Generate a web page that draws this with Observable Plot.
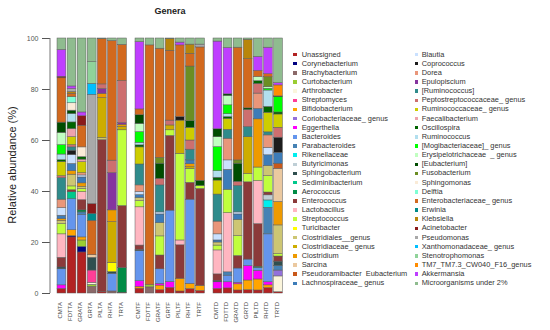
<!DOCTYPE html>
<html><head><meta charset="utf-8">
<script src="https://cdn.jsdelivr.net/npm/d3@7"></script>
<script src="https://cdn.jsdelivr.net/npm/@observablehq/plot@0.6"></script>
<style>
body{margin:0;background:#fff;font-family:"Liberation Sans",Arial,sans-serif}
#wrap{position:relative;width:550px;height:330px;overflow:hidden}
#wrap svg{position:absolute;left:0;top:0}
.title{position:absolute;left:170px;top:6px;transform:translateX(-50%);font-size:9px;font-weight:bold;color:#222}
.ylab{position:absolute;left:12px;top:165px;transform:translate(-50%,-50%) rotate(-90deg);font-size:11px;color:#222;white-space:nowrap}
.lg{position:absolute;font-size:7.4px;color:#333;white-space:pre;line-height:1}
.sw{position:absolute;width:3.5px;height:3.5px}
</style></head><body><div id="wrap"></div>
<script>
const genera = ["Unassigned","Corynebacterium","Brachybacterium","Curtobacterium","Arthrobacter","Streptomyces","Bifidobacterium","Coriobacteriaceae_ genus","Eggerthella","Bacteroides","Parabacteroides","Rikenellaceae","Butyricimonas","Sphingobacterium","Sediminibacterium","Aerococcus","Enterococcus","Lactobacillus","Streptococcus","Turicibacter","Clostridiales__genus","Clostridiaceae_ genus","Clostridium","Sarcina","Pseudoramibacter  Eubacterium","Lachnospiraceae_ genus","Blautia","Coprococcus","Dorea","Epulopiscium","[Ruminococcus]","Peptostreptococcaceae_ genus","Ruminococcaceae_ genus","Faecalibacterium","Oscillospira","Ruminococcus","[Mogibacteriaceae]_ genus","Erysipelotrichaceae  _ genus","[Eubacterium]","Fusobacterium","Sphingomonas","Delftia","Enterobacteriaceae_ genus","Erwinia","Klebsiella","Acinetobacter","Pseudomonas","Xanthomonadaceae_ genus","Stenotrophomonas","TM7_TM7.3_CW040_F16_genus","Akkermansia","Microorganisms under 2%"];
const colors = ["#B22222","#000080","#8B6969","#9ACD32","#FBF5DC","#FF3E96","#FFA500","#9370DB","#FF00FF","#6495ED","#4682B4","#00EEEE","#BFCFD6","#2F4F4F","#00C88C","#008B45","#8B3A3A","#FFB6C1","#C0FF3E","#FFFF00","#CDC673","#CDAD00","#EE9A00","#EBC9A0","#C8581A","#3D7CB8","#CAE1FF","#1C1C1C","#E9967A","#85349F","#2F8B8B","#CD6F6F","#CDCD00","#EEA2AD","#006400","#B2DFEE","#00FF00","#C1FFC1","#004D00","#6B8E23","#FAEBD7","#7FFFD4","#D2691E","#008B8B","#B8860B","#8B1A1A","#A9A9A9","#00BFFF","#90D39A","#FF8C00","#BF3EFF","#8FBC8F"];

const groups = ["TA","TF","TD"];
const samplesTA = ["CMTA","FDTTA","GRATA","GRTA","PILTA","RHTA","TRTA"];
const samplesTF = ["CMTF","FDTTF","GRATF","GRTF","PILTF","RHTF","TRTF"];
const samplesTD = ["CMTD","FDTTD","GRATD","GRTD","PILTD","RHTD","TRTD"];

// [genus number in legend order (1-based), relative abundance %]
const CMTA = [[1,1.8],[9,1.4],[10,6.3],[14,0.7],[17,3.8],[18,9.2],[19,4.0],[21,1.3],[23,0.7],[26,1.3],[27,3.0],[29,3.3],[31,8.4],[32,0.8],[33,5.6],[35,0.7],[36,2.2],[37,3.7],[38,4.8],[39,4.0],[43,17.4],[46,0.6],[51,10.5],[52,4.5]];
const FDTTA = [[1,22],[2,0.5],[7,2.3],[10,12.2],[15,2.7],[17,0.8],[19,1.5],[21,4.6],[23,1.4],[26,2.8],[27,3.5],[28,1.7],[31,1.3],[32,0.9],[33,3.1],[34,3.2],[35,2.6],[36,3.3],[39,1.3],[41,2.9],[42,2.4],[43,1.3],[45,0.7],[47,1.2],[51,1.0],[52,18.8]];
const GRATA = [[1,16.1],[2,2.2],[4,2.5],[7,1.2],[10,8.7],[11,1.1],[16,0.8],[17,4.0],[18,3.2],[19,1.2],[21,0.8],[23,1.4],[26,2.3],[27,0.8],[29,0.9],[33,4.3],[34,1.0],[35,1.0],[41,3.8],[43,8.5],[46,3.7],[51,1.5],[52,29]];
const GRTA = [[3,2.6],[4,0.8],[5,0.8],[6,4.8],[14,5.0],[24,1.0],[43,13.5],[44,2.7],[46,3.9],[47,42.8],[48,4.3],[49,8.5],[52,9.3]];
const PILTA = [[1,0.5],[17,59.6],[21,0.9],[22,15.6],[23,1.7],[30,1.9],[32,1.8],[43,17.7],[52,0.3]];
const RHTA = [[3,0.8],[10,6.9],[14,0.7],[20,3.5],[22,16.1],[23,4.6],[30,14.6],[32,4.9],[43,46.9],[52,1.0]];
const TRTA = [[1,0.3],[16,9.7],[17,24.3],[19,29.7],[22,1.3],[23,0.9],[30,0.6],[32,16.5],[43,14.2],[52,2.5]];
const CMTF = [[1,1.9],[7,0.7],[9,2.2],[10,11.8],[14,0.5],[17,1.7],[18,15.0],[19,2.4],[21,1.3],[26,1.1],[27,1.2],[29,2.6],[31,8.2],[33,6.7],[35,0.8],[36,1.0],[37,4.2],[38,3.2],[39,3.4],[43,2.3],[51,26.4],[52,1.4]];
const FDTTF = [[3,2.4],[4,0.9],[43,94.0],[52,2.7]];
const GRATF = [[1,1.3],[7,1.8],[9,0.7],[10,5.7],[17,5.4],[19,7.5],[21,5.2],[26,3.4],[27,0.8],[31,10.6],[32,2.6],[39,5.9],[40,2.3],[43,42.8],[52,4.0]];
const GRTF = [[1,2.2],[9,2.3],[10,28.0],[17,29.3],[19,2.2],[22,1.9],[32,1.9],[43,27.4],[45,4.5],[52,0.3]];
const PILTF = [[1,0.8],[7,5.0],[17,13.1],[18,1.9],[19,34.0],[22,13.0],[28,1.4],[43,28.1],[51,1.1],[52,1.6]];
const RHTF = [[1,1.7],[7,2.1],[10,33.0],[17,6.6],[19,5.5],[22,0.6],[23,1.2],[26,1.5],[31,4.2],[32,3.6],[33,5.0],[39,2.6],[40,21.4],[43,5.0],[45,3.6],[52,2.4]];
const TRTF = [[1,1.0],[7,2.0],[17,38.0],[19,1.2],[39,2.0],[43,52.3],[47,1.1],[52,2.4]];
const CMTD = [[1,1.8],[9,2.6],[14,0.6],[17,2.5],[18,9.4],[19,1.9],[21,1.2],[26,0.8],[27,2.4],[29,5.0],[31,10.6],[33,5.5],[35,1.1],[36,2.6],[37,9.4],[38,3.9],[39,3.1],[51,34.4],[52,1.2]];
const FDTTD = [[1,2.0],[9,2.4],[10,2.6],[11,1.3],[18,23.2],[19,9.2],[26,7.8],[27,3.7],[29,8.5],[31,3.5],[33,4.3],[35,0.7],[36,1.1],[37,3.5],[38,3.7],[39,0.6],[51,18.2],[52,3.7]];
const GRATD = [[1,1.2],[7,2.4],[9,0.6],[10,5.6],[17,4.9],[19,7.8],[21,6.4],[26,2.1],[27,0.8],[31,10.4],[32,1.6],[39,7.1],[40,1.3],[43,44.2],[52,3.6]];
const GRTD = [[1,1.3],[7,3.8],[9,5.7],[10,2.5],[17,30.3],[19,3.3],[22,14.4],[31,4.0],[32,6.7],[39,0.6],[43,19.3],[45,7.6],[52,0.5]];
const PILTD = [[1,1.2],[7,4.3],[9,3.4],[10,1.1],[16,0.5],[17,16.7],[18,16.9],[19,5.3],[23,18.9],[26,4.1],[29,6.0],[32,3.8],[35,1.1],[38,1.6],[43,2.4],[51,5.5],[52,7.2]];
const RHTD = [[1,2.1],[7,1.1],[9,1.2],[10,18.8],[11,10.4],[12,2.9],[13,2.0],[17,1.1],[19,6.4],[21,4.0],[26,4.2],[27,2.9],[29,4.9],[31,1.2],[33,7.7],[35,2.3],[36,6.4],[37,0.7],[38,0.6],[40,3.9],[43,1.2],[51,10.4],[52,3.6]];
const TRTD = [[1,0.5],[5,6.2],[8,2.3],[11,1.8],[14,1.7],[17,2.0],[19,0.9],[21,11.3],[23,9.2],[24,13.0],[25,2.0],[26,4.3],[28,5.9],[32,3.9],[33,5.2],[35,0.8],[37,6.0],[39,0.3],[50,4.3],[51,0.9],[52,17.5]];

const valuesBySample = {CMTA,FDTTA,GRATA,GRTA,PILTA,RHTA,TRTA,CMTF,FDTTF,GRATF,GRTF,PILTF,RHTF,TRTF,CMTD,FDTTD,GRATD,GRTD,PILTD,RHTD,TRTD};
const groupSamples = [samplesTA, samplesTF, samplesTD];

const rows = [], labels = [];
groupSamples.forEach((list, gi) => list.forEach((s, j) => {
  labels.push({group: groups[gi], pos: j, sample: s});
  valuesBySample[s].forEach(([k, v]) => rows.push({group: groups[gi], pos: j, sample: s, genus: genera[k-1], value: v}));
}));

const chart = Plot.plot({
  width: 550, height: 330,
  marginLeft: 50, marginRight: 267.6, marginTop: 38, marginBottom: 37,
  style: {fontFamily: "Liberation Sans, Arial, sans-serif", fontSize: "7px", color: "#555", background: "transparent", overflow: "visible"},
  fx: {domain: groups, axis: null, paddingInner: 0.0205, paddingOuter: 0, round: false, label: null},
  x: {domain: d3.range(7), axis: null, paddingInner: 0.13, paddingOuter: 0.347, align: 1, round: false},
  y: {domain: [0, 100], ticks: [0, 20, 40, 60, 80, 100], tickSize: 8, tickPadding: 4, label: null},
  color: {domain: genera, range: colors},
  marks: [
    Plot.barY(rows, Plot.stackY({fx: "group", x: "pos", y: "value", fill: "genus", stroke: "#5a5a5a", strokeWidth: 0.5})),
    Plot.text(labels, {fx: "group", x: "pos", text: "sample", frameAnchor: "bottom", rotate: -90, textAnchor: "end", dy: 8.5, fontSize: 6, fill: "#444"})
  ]
});

const wrap = document.getElementById("wrap");
wrap.appendChild(chart);
const ys = chart.scale("y");
d3.select(chart).append("line")
  .attr("x1", 50).attr("x2", 50)
  .attr("y1", ys.apply(0)).attr("y2", ys.apply(100))
  .attr("stroke", "#777").attr("stroke-width", 1);

const t = document.createElement("div"); t.className = "title"; t.textContent = "Genera"; wrap.appendChild(t);
const yl = document.createElement("div"); yl.className = "ylab"; yl.textContent = "Relative abundance (%)"; wrap.appendChild(yl);

genera.forEach((g, i) => {
  const col = i < 26 ? 0 : 1, row = i % 26;
  const yc = 54.5 + row * 9.15;
  const sw = document.createElement("div"); sw.className = "sw";
  sw.style.left = (col ? 414.5 : 293.3) + "px"; sw.style.top = (yc - 1.75) + "px"; sw.style.background = colors[i];
  wrap.appendChild(sw);
  const tx = document.createElement("div"); tx.className = "lg";
  tx.style.left = (col ? 421.7 : 301.7) + "px"; tx.style.top = (yc - 4) + "px"; tx.textContent = g;
  wrap.appendChild(tx);
});
</script></body></html>
